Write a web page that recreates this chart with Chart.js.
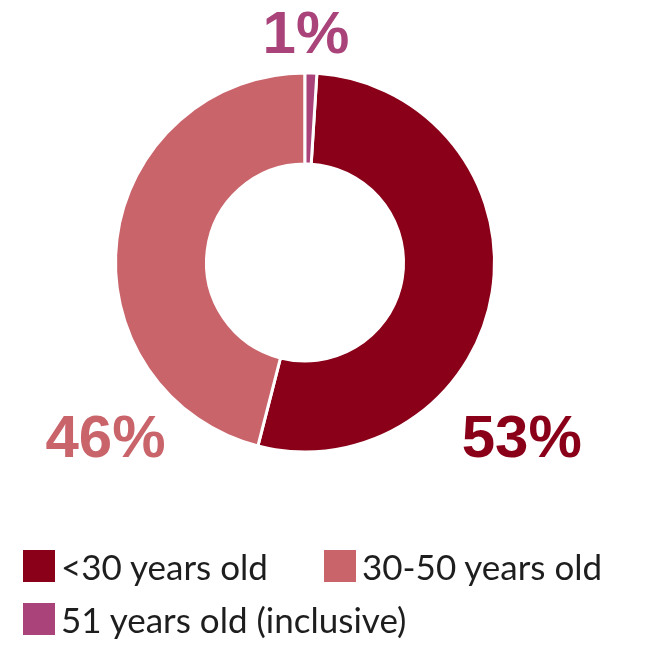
<!DOCTYPE html>
<html>
<head>
<meta charset="utf-8">
<script src="https://cdn.jsdelivr.net/npm/chart.js@4.4.0/dist/chart.umd.min.js"></script>
<style>
  html, body { margin: 0; padding: 0; background: #fff; }
  #wrap { position: relative; width: 653px; height: 646px; }
  #chart { position: absolute; left: 0; top: 0; }
  #legend {
    position: absolute; left: 23px; top: 550px;
    display: grid; grid-template-columns: 301px auto; row-gap: 21px;
    font-family: Lato, "Noto Sans", sans-serif; font-weight: 400; font-size: 35px;
    color: #1e1e1e;
  }
  .item { display: flex; align-items: center; height: 32px; white-space: nowrap; }
  .box { width: 32px; height: 32px; margin-right: 6px; flex: none; }
</style>
</head>
<body>
<div id="wrap">
  <canvas id="chart" width="653" height="646"></canvas>
  <div id="legend"></div>
</div>
<script>
const ageGroups = ['<30 years old', '30-50 years old', '51 years old (inclusive)'];
const shares = [53, 46, 1];
const colors = ['#8a0019', '#c9646b', '#a94379'];

// where each percent sits, in units of the outer radius from the ring centre
const labelPos = [[1.144, 1.024], [-1.053, 1.024], [0.005, -1.104]];

const percentLabels = {
  id: 'percentLabels',
  afterDatasetsDraw(chart) {
    const { ctx } = chart;
    const arc = chart.getDatasetMeta(0).data[0];
    const r = arc.outerRadius;
    ctx.save();
    ctx.font = 'bold 60px "Liberation Sans", Arial, sans-serif';
    ctx.textAlign = 'center';
    ctx.textBaseline = 'alphabetic';
    shares.forEach((v, i) => {
      ctx.fillStyle = colors[i];
      ctx.fillText(v + '%', arc.x + labelPos[i][0] * r, arc.y + labelPos[i][1] * r);
    });
    ctx.restore();
  }
};

// legend rendered as html so the spacing can follow the layout
const htmlLegend = {
  id: 'htmlLegend',
  afterUpdate(chart) {
    const el = document.getElementById('legend');
    el.innerHTML = '';
    const items = chart.options.plugins.legend.labels.generateLabels(chart);
    items.forEach(item => {
      const row = document.createElement('div');
      row.className = 'item';
      const box = document.createElement('span');
      box.className = 'box';
      box.style.background = item.fillStyle;
      const txt = document.createElement('span');
      txt.textContent = item.text;
      row.appendChild(box);
      row.appendChild(txt);
      el.appendChild(row);
    });
  }
};

const total = shares.reduce((a, b) => a + b, 0);

new Chart(document.getElementById('chart'), {
  type: 'doughnut',
  data: {
    labels: ageGroups,
    datasets: [{
      data: shares,
      backgroundColor: colors,
      borderColor: '#ffffff',
      borderWidth: 3
    }]
  },
  options: {
    responsive: false,
    animation: false,
    cutout: '52%',
    rotation: shares[2] / total * 360,
    layout: { padding: { top: 71.5, bottom: 192.5, left: 0, right: 43 } },
    plugins: {
      legend: { display: false },
      tooltip: { enabled: false }
    }
  },
  plugins: [percentLabels, htmlLegend]
});
</script>
</body>
</html>
